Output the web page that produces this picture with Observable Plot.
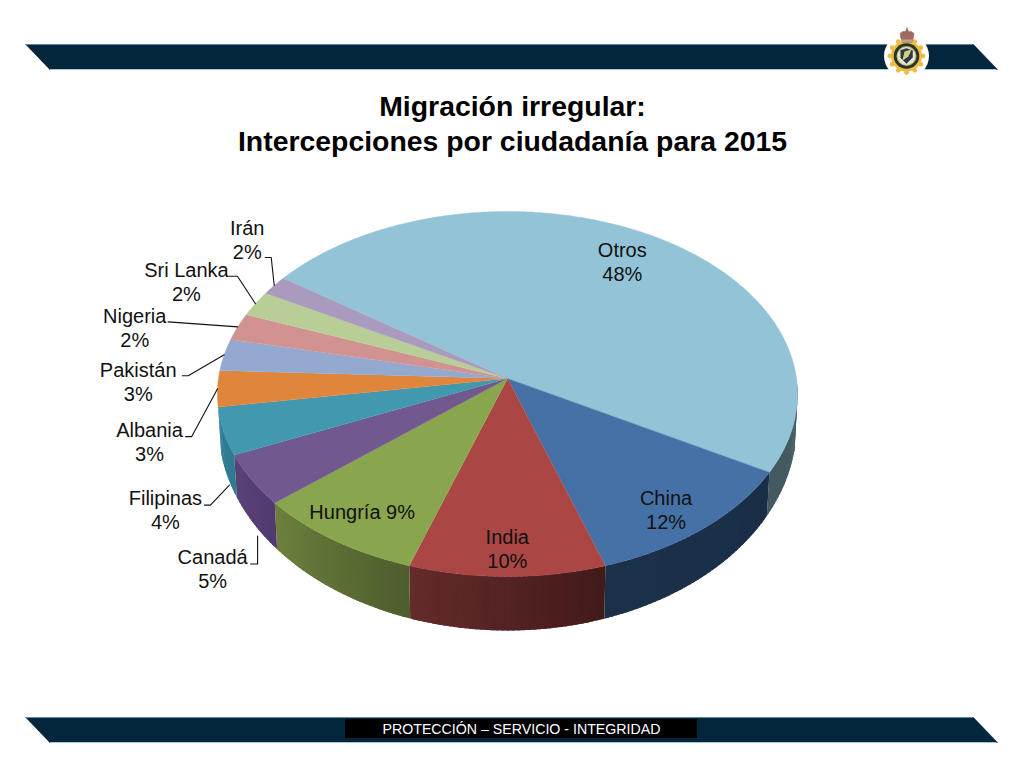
<!DOCTYPE html>
<html lang="es">
<head>
<meta charset="utf-8">
<title>Migración irregular</title>
<script src="https://cdn.jsdelivr.net/npm/d3@7"></script>
<script src="https://cdn.jsdelivr.net/npm/@observablehq/plot@0.6"></script>
<style>
html,body{margin:0;padding:0;background:#fff}
svg{display:block}
</style>
</head>
<body>
<div id="root"></div>
<script>
// ---- data ----
const countries = ["Otros","China","India","Hungría","Canadá","Filipinas","Albania","Pakistán","Nigeria","Sri Lanka","Irán"];
const shares    = [48.4,11.7,10.1,8.7,4.55,4.2,3.2,2.8,2.4,2.25,1.7];
const percentLabels = ["48%","12%","10%","9%","5%","4%","3%","3%","2%","2%","2%"];
const topColors = ["#93c3d6","#4571a7","#aa4643","#89a54e","#71588f","#4198af","#e0853c","#93a9cf","#d19392","#b9cd96","#a99bbd"];
const wallLeft  = ["#445a60","#1b3049","#642b2b","#6c813e","#594278","#2f7d92","#b56a2e","#6f84a8","#a87170","#93a474","#85799a"];
const wallRight = ["#445a60","#1a2e47","#431a1a","#4e5d2c","#513b6e","#2f7a90","#b56a2e","#6f84a8","#a87170","#93a474","#85799a"];

const titleText = "Migración irregular:\nIntercepciones por ciudadanía para 2015";
const footerText = "PROTECCIÓN – SERVICIO - INTEGRIDAD";

// ---- layout ----
const cx = 507, cy = 378, A = 289, B = 181.2, k = 0.0849;
const startAngle = 215.5, wallEnd = 171;
const bottomCy = 425, bottomRx = 289, bottomRy = 205;
const navy = "#04263c";

// label offset relative to the rim at the slice's mid-angle, and leader elbows
const labelOffsets = [[-30.6,25.4],[-37,-19],[0,-28],[28,-29],[-41.5,44.5],[-61,36],[-68,53],[-86,27],[-103,0],[-69,-22],[-27,-46]];
const leaderElbows = [null,null,null,null,
  [[-3.5,40],[3.5,40],[3.5,12]],
  [[-22,32],[-16,32],[3,12]],
  [[-32,48],[-26,48],[0,0]],
  [[-42,21],[-36,21],[0,0]],
  [[-69.6,-5],[0,0]],
  [[-26,-27.5],[-18,-27.5],[0,0]],
  [[-9,-28],[-3,-28],[0,0]]];
const usesWallRim = [false,false,false,false,true,true,false,false,false,false,false];

// ---- geometry ----
const rad = d => d * Math.PI / 180;
function topPt(theta) {
  const X = Math.cos(rad(theta)), Y = Math.sin(rad(theta)), w = 1 - k * Y;
  return [cx + A * X / w, cy + B * Y / w];
}
function bottomPt(theta) {
  const x = cx + 0.99 * (topPt(theta)[0] - cx);
  const u = (x - cx) / bottomRx;
  return [x, bottomCy + bottomRy * Math.sqrt(Math.max(0, 1 - u * u))];
}
const total = d3.sum(shares);
let acc = startAngle;
const slices = countries.map((name, i) => {
  const a0 = acc, a1 = acc + 360 * shares[i] / total; acc = a1;
  return {name, i, a0, a1, mid: (a0 + a1) / 2};
});

// side walls, split in narrow strips for the shading; each strip runs a little under the next one
const wallPolys = [];
slices.forEach(s => {
  [[s.a0, s.a1], [s.a0 - 360, s.a1 - 360]].forEach(([a0, a1]) => {
    const lo = Math.max(a0, 0), hi = Math.min(a1, wallEnd);
    if (hi <= lo) return;
    const col = d3.interpolateRgb(wallLeft[s.i], wallRight[s.i]);
    const n = Math.ceil(hi - lo);
    for (let j = 0; j < n; j++) {
      const t0 = lo + (hi - lo) * j / n, t1 = lo + (hi - lo) * (j + 1) / n + (j < n - 1 ? 0.7 : 0);
      const color = col(1 - (j + 0.5) / n);
      const id = `w${s.i}-${a0}-${j}`;
      [topPt(t0), topPt(t1), bottomPt(t1), bottomPt(t0)].forEach(p => wallPolys.push({x:p[0], y:p[1], z:id, color, order:t0}));
    }
  });
});
wallPolys.sort((p, q) => p.order - q.order);

// top faces
const topPolys = [];
slices.forEach(s => {
  const n = Math.ceil(s.a1 - s.a0) * 2;
  const pts = [[cx, cy]];
  for (let j = 0; j <= n; j++) pts.push(topPt(s.a0 + (s.a1 - s.a0) * j / n));
  pts.forEach(p => topPolys.push({x:p[0], y:p[1], z:s.name, color:topColors[s.i]}));
});

// labels + leaders
const labels = slices.map(s => {
  const rim = usesWallRim[s.i] ? bottomPt(s.mid) : topPt(s.mid);
  const o = labelOffsets[s.i];
  const sep = countries[s.i] === "Hungría" ? " " : "\n";
  return {x: rim[0] + o[0], y: rim[1] + o[1], text: countries[s.i] + sep + percentLabels[s.i]};
});
const leaders = [];
slices.forEach(s => {
  const e = leaderElbows[s.i];
  if (!e) return;
  const rim = usesWallRim[s.i] ? bottomPt(s.mid) : topPt(s.mid);
  e.forEach(o => leaders.push({x: rim[0] + o[0], y: rim[1] + o[1], z: s.name}));
});

// decoration: bands and emblem
const bandTop = [[25,44],[973,44],[997,69],[49,69]];
const bandBottom = [[25,717],[973,717],[997,742],[49,742]];
const bandPts = [];
[bandTop, bandBottom].forEach((b, i) => b.forEach(p => bandPts.push({x:p[0], y:p[1], z:"b"+i})));
const footerBox = [{x1:345, x2:697, y1:719, y2:738}];
const logoC = {x:906, y:55.5};
const cog = d3.range(12).map(i => ({x: logoC.x + 16.5 * Math.cos(i * 2 * Math.PI / 12), y: logoC.y + 16.5 * Math.sin(i * 2 * Math.PI / 12)}));
const asPts = a => a.map(p => ({x:p[0], y:p[1]}));
const crownPts = asPts([[900,37],[899.5,33],[902,31],[905,31],[906.5,27],[908,31],[911,31],[913.5,33],[913,37],[911.5,42],[901.5,42]]);
const crownBand = asPts([[901,39],[912,39],[911.5,42],[901.5,42]]);
const shieldPts = asPts([[900,50],[906,48],[912,50],[912,57],[906,63],[900,57]]);
const shieldMark = asPts([[902,60],[904,51],[911,49],[908,56]]);

const fontStack = "'Liberation Sans', Arial, sans-serif";
const plotEl = Plot.plot({
  width: 1024, height: 768, margin: 0,
  x: {domain: [0, 1024], range: [0, 1024], axis: null},
  y: {domain: [0, 768], range: [0, 768], axis: null},
  color: {type: "identity"},
  style: {background: "#fff", fontFamily: fontStack},
  marks: [
    // bands
    Plot.line(bandPts, {x:"x", y:"y", z:"z", fill:navy, stroke:navy, strokeWidth:0.5}),
    Plot.ruleY([44,717], {x1:26, x2:972, stroke:"#5f8ba0", strokeWidth:1}),
    Plot.ruleY([69,742], {x1:50, x2:996, stroke:"#a9c6d4", strokeWidth:1}),
    Plot.rect(footerBox, {x1:"x1", x2:"x2", y1:"y1", y2:"y2", fill:"#000"}),
    Plot.text([footerText], {x:521, y:729, text:d=>d, fill:"#fff", fontSize:14.2}),
    // emblem
    Plot.dot([logoC], {x:"x", y:"y", r:22.5, fill:"#fff"}),
    Plot.dot(cog, {x:"x", y:"y", r:2.4, fill:"#eebc45"}),
    Plot.dot([logoC], {x:"x", y:"y", r:15.5, fill:"#eebc45"}),
    Plot.dot([logoC], {x:"x", y:"y", r:12.8, fill:"#27352a"}),
    Plot.dot([logoC], {x:"x", y:"y", r:10, fill:"#c2ae68"}),
    Plot.dot([logoC], {x:"x", y:"y", r:9, fill:"#e6e4d4"}),
    Plot.line(shieldPts, {x:"x", y:"y", fill:"#2c3a3e", stroke:"#2c3a3e", strokeWidth:0.5}),
    Plot.line(shieldMark, {x:"x", y:"y", fill:"#d6cf8a", stroke:"none"}),
    Plot.line(crownPts, {x:"x", y:"y", fill:"#a06a5e", stroke:"#a06a5e", strokeWidth:0.5}),
    Plot.line(crownBand, {x:"x", y:"y", fill:"#b9a58a", stroke:"none"}),
    // title
    Plot.text([titleText], {x:512, y:122, text:d=>d, fontSize:28.4, fontWeight:"bold", lineHeight:1.23, fill:"#000"}),
    // pie
    Plot.line(wallPolys, {x:"x", y:"y", z:"z", fill:"color", stroke:"none"}),
    Plot.line(topPolys, {x:"x", y:"y", z:"z", fill:"color", stroke:"color", strokeWidth:0.4}),
    // leaders + labels
    Plot.line(leaders, {x:"x", y:"y", z:"z", stroke:"#111", strokeWidth:1.1}),
    Plot.text(labels, {x:"x", y:"y", text:"text", fontSize:20, lineHeight:1.2, fill:"#111"})
  ]
});
document.getElementById("root").appendChild(plotEl);
</script>
</body>
</html>
